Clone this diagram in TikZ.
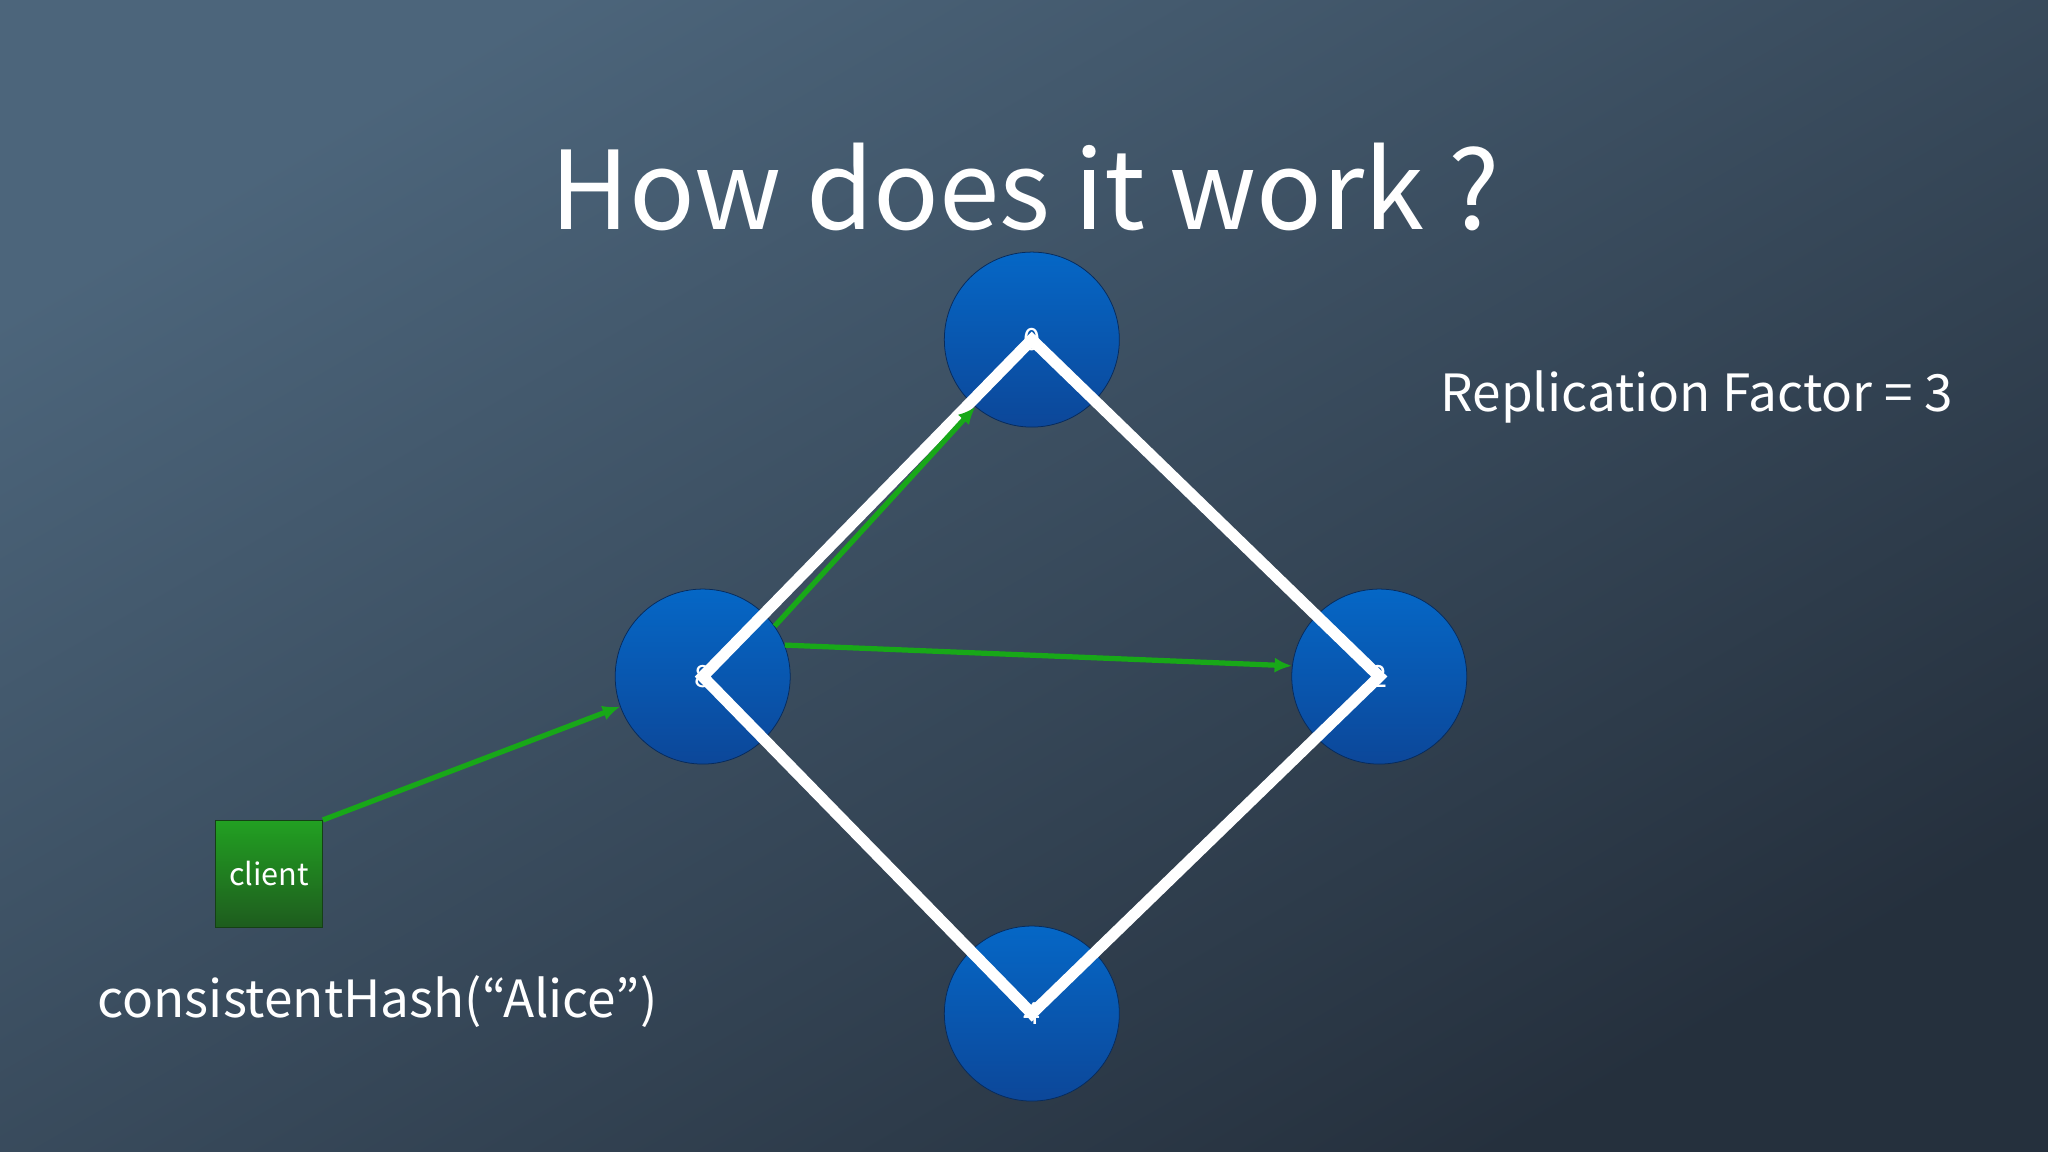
\documentclass[tikz,border=0pt]{standalone}
\usepackage{fontspec}
\setmainfont{Noto Sans CJK JP}
\usetikzlibrary{arrows.meta}
\begin{document}
\begin{tikzpicture}[x=0.3mm,y=-0.3mm,
  ring/.style={circle,minimum size=40.2mm,inner sep=0pt,draw=ringB!60!black,line width=0.5pt,top color=ringA,bottom color=ringB,text=white,font=\fontsize{20}{20}\selectfont},
  edge/.style={white,line width=2.6mm,line join=miter},
  garrow/.style={arrowG,line width=1.2mm,-{Latex[length=4mm,width=3.5mm]}}]
\definecolor{bgA}{HTML}{4C657B}\definecolor{bgB}{HTML}{25303D}
\definecolor{ringA}{HTML}{0567C6}\definecolor{ringB}{HTML}{0C4799}
\definecolor{arrowG}{HTML}{18A818}
\definecolor{cliA}{HTML}{22A022}\definecolor{cliB}{HTML}{1E5C1E}
\fill[bgA,shading=axis,top color=bgA,bottom color=bgB,shading angle=30] (0,0) rectangle (1568,882);
\useasboundingbox (0,0) rectangle (1568,882);
\node[text=white,font=\fontsize{71}{71}\selectfont] (title) at (785,143) {How does it work ?};
\node[text=white,font=\fontsize{33.5}{33.5}\selectfont] (rf) at (1299,304) {Replication Factor = 3};
\node[text=white,font=\fontsize{33.5}{33.5}\selectfont] (hash) at (289,767) {consistentHash(“Alice”)};
\node[ring] (n0) at (790,260) {0};
\node[ring] (n8) at (538,518) {8};
\node[ring] (n2) at (1056,518) {2};
\node[ring] (n4) at (790,776) {4};
\node[draw=cliB!70!black,minimum size=24.6mm,inner sep=0pt,top color=cliA,bottom color=cliB,text=white,font=\fontsize{20}{20}\selectfont] (client) at (206,669) {client};
\draw[edge] (n8.center) -- (n0.center) -- (n2.center) -- (n4.center) -- cycle;
\draw[garrow] (client.north east) -- (n8.200);
\draw[garrow] (n8.35) -- (n0.230);
\draw[garrow] (n8.21) -- (n2.173);
\end{tikzpicture}
\end{document}
